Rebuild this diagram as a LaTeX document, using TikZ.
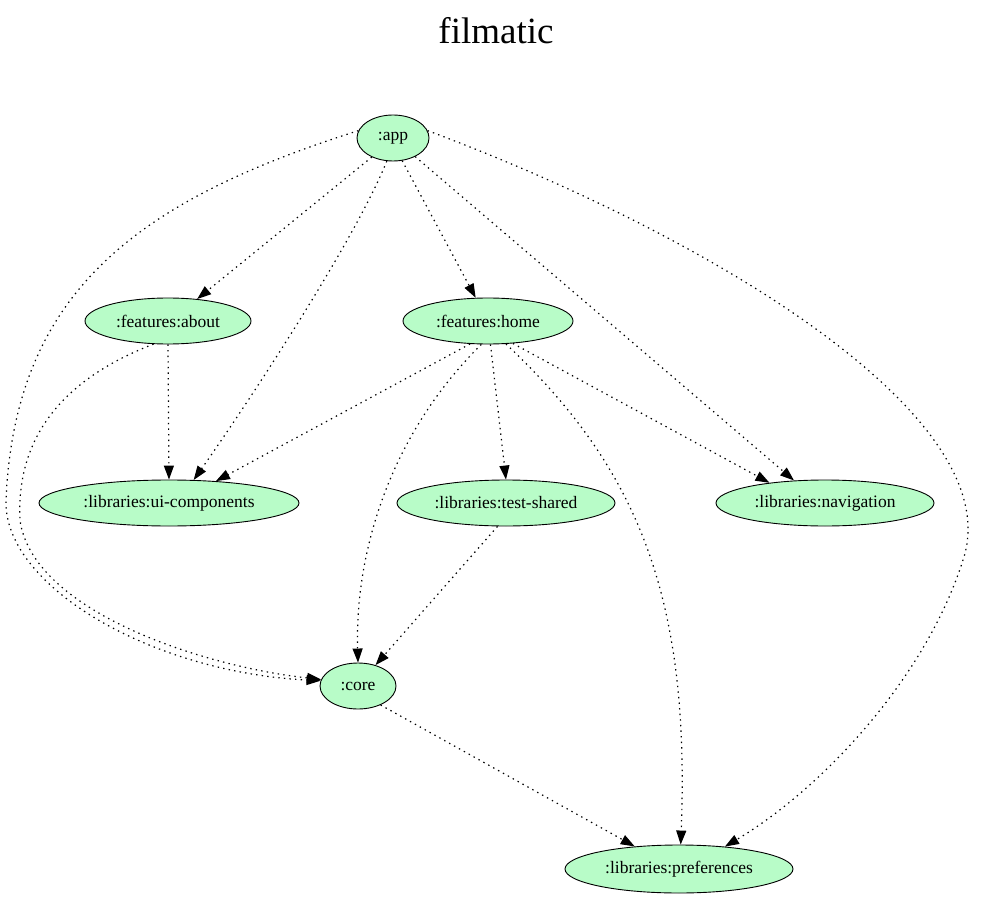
\documentclass[tikz,border=0pt]{standalone}
\usepackage{fontspec}
\setmainfont{Liberation Serif}
\usetikzlibrary{shapes.geometric,arrows.meta}
\definecolor{nodefill}{RGB}{184,252,200}
\tikzset{
  mod/.style={ellipse, draw=black, line width=0.9pt, fill=nodefill, inner sep=0pt,
    minimum height=46pt, font=\fontsize{17.5}{20}\selectfont},
  dep/.style={line width=1.2pt, dash pattern=on 1.4pt off 4.2pt,
    -{Triangle[length=14pt,width=10pt]}},
}
\begin{document}
\begin{tikzpicture}[x=1pt,y=-1pt]
\useasboundingbox (0,0) rectangle (993,909);
\node (title) at (496,31) {\fontsize{37}{40}\selectfont filmatic};
\node[mod, minimum width=72pt] (app) at (393,138) {:app};
\node[mod, minimum width=166pt] (about) at (168,321) {:features:about};
\node[mod, minimum width=170pt] (home) at (488,321) {:features:home};
\node[mod, minimum width=260pt] (ui) at (169,503) {:libraries:ui-components};
\node[mod, minimum width=218pt] (test) at (506,503) {:libraries:test-shared};
\node[mod, minimum width=218pt] (nav) at (825,503) {:libraries:navigation};
\node[mod, minimum width=76pt] (core) at (358,686) {:core};
\node[mod, minimum width=228pt, minimum height=48pt] (pref) at (679,869) {:libraries:preferences};

% from app
\draw[dep] (app.222) -- (about.37);
\draw[dep] (app.292) -- (home.118);
\draw[dep] (app.255) .. controls (355,240) and (250,400) .. (ui.43);
\draw[dep] (app.320) -- (nav.144);
\draw[dep] (app.12) .. controls (720,240) and (1010,420) .. (963,560) .. controls (925,680) and (820,790) .. (pref.26);
\draw[dep] (app.168) .. controls (140,200) and (15,290) .. (6,500) .. controls (3,585) and (150,672) .. (core.172);
% from about
\draw[dep] (about.238) .. controls (60,380) and (16,440) .. (20,520) .. controls (32,610) and (200,666) .. (core.170);
\draw[dep] (about.270) -- (ui.90);
% from home
\draw[dep] (home.232) -- (ui.25);
\draw[dep] (home.276) -- (test.90);
\draw[dep] (home.318) -- (nav.160);
\draw[dep] (home.254) .. controls (385,440) and (355,560) .. (core.90);
\draw[dep] (home.308) .. controls (640,470) and (690,600) .. (pref.86);
% others
\draw[dep] (test.250) -- (core.50);
\draw[dep] (core.320) -- (pref.153);
\end{tikzpicture}
\end{document}
